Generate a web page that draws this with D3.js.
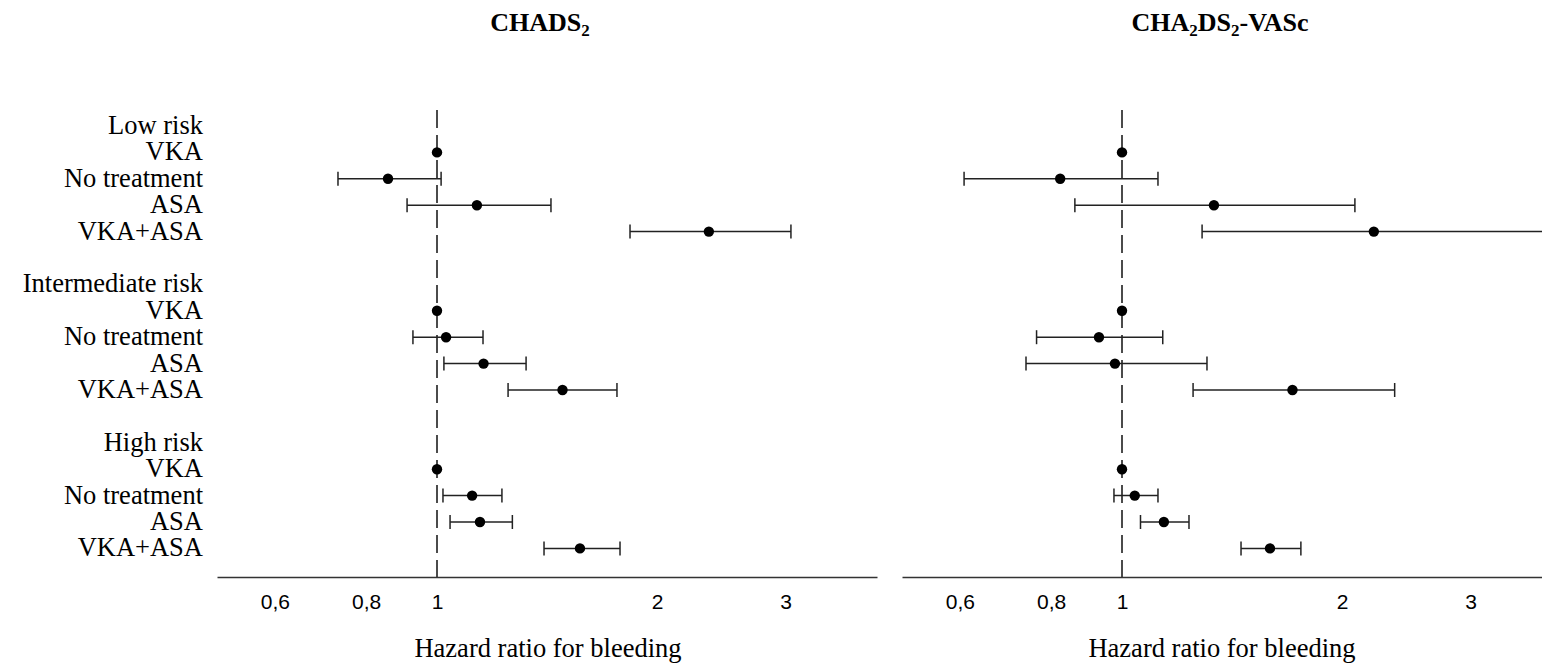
<!DOCTYPE html>
<html>
<head>
<meta charset="utf-8">
<script src="https://cdn.jsdelivr.net/npm/d3@7"></script>
<style>
  body { margin: 0; background: #fff; }
  svg { display: block; }
</style>
</head>
<body>
<svg id="chart"></svg>
<script>
const width = 1542;
const height = 664;

// rows of the forest plot, blank strings are spacer rows
const rowLabels = [
  "Low risk", "VKA", "No treatment", "ASA", "VKA+ASA", "",
  "Intermediate risk", "VKA", "No treatment", "ASA", "VKA+ASA", "",
  "High risk", "VKA", "No treatment", "ASA", "VKA+ASA"
];

// CHADS2 hazard ratios
const chadsEst  = [null, 1, 0.857, 1.134, 2.355, null, null, 1, 1.029, 1.158, 1.485, null, null, 1, 1.117, 1.145, 1.569];
const chadsLow  = [null, null, 0.732, 0.910, 1.837, null, null, null, 0.927, 1.022, 1.251, null, null, null, 1.019, 1.042, 1.401];
const chadsHigh = [null, null, 1.013, 1.432, 3.05, null, null, null, 1.156, 1.324, 1.763, null, null, null, 1.227, 1.268, 1.78];

// CHA2DS2-VASc hazard ratios
const vascEst  = [null, 1, 0.823, 1.336, 2.211, null, null, 1, 0.930, 0.978, 1.711, null, null, 1, 1.041, 1.141, 1.594];
const vascLow  = [null, null, 0.608, 0.862, 1.287, null, null, null, 0.764, 0.739, 1.251, null, null, null, 0.975, 1.06, 1.455];
const vascHigh = [null, null, 1.12, 2.083, 4.0, null, null, null, 1.137, 1.307, 2.361, null, null, null, 1.12, 1.235, 1.757];

const tickValues = [0.6, 0.8, 1, 2, 3];
const xDomain = [0.5, 4];

const svg = d3.select("#chart")
  .attr("width", width)
  .attr("height", height);

const y = d3.scalePoint()
  .domain(d3.range(rowLabels.length))
  .range([126, 548.4]);

const axisY = 577;
const serif = "'Liberation Serif', 'Times New Roman', serif";

/* ---------------------------
Row labels
--------------------------- */

svg.append("g")
  .selectAll("text")
  .data(rowLabels)
  .enter()
  .append("text")
  .attr("x", 203)
  .attr("y", (d, i) => y(i) + 8)
  .attr("text-anchor", "end")
  .style("font-family", serif)
  .style("font-size", "26.5px")
  .attr("fill", "#000")
  .text(d => d);

/* ---------------------------
One panel
--------------------------- */

function drawPanel(cfg) {
  const x = d3.scaleLog().domain(xDomain).range(cfg.range);
  const g = svg.append("g");

  // title with subscripts
  const title = g.append("text")
    .attr("x", cfg.titleX)
    .attr("y", 31)
    .attr("text-anchor", "middle")
    .style("font-family", serif)
    .style("font-size", "26px")
    .style("font-weight", "bold");
  cfg.title.forEach(part => {
    title.append("tspan")
      .attr("baseline-shift", part.sub ? "-30%" : null)
      .style("font-size", part.sub ? "17px" : null)
      .text(part.t);
  });

  // reference line at HR = 1
  g.append("line")
    .attr("x1", x(1))
    .attr("x2", x(1))
    .attr("y1", 110)
    .attr("y2", axisY)
    .attr("stroke", "#111")
    .attr("stroke-width", 1.5)
    .attr("stroke-dasharray", "18,7");

  // axis
  const axis = d3.axisBottom(x)
    .tickValues(tickValues)
    .tickSize(0)
    .tickSizeOuter(0)
    .tickPadding(17)
    .tickFormat(d => String(d).replace(".", ","));

  const ag = g.append("g")
    .attr("transform", `translate(0,${axisY})`)
    .call(axis);
  ag.select(".domain")
    .attr("stroke", "#333")
    .attr("stroke-width", 1.5);
  ag.selectAll(".tick text")
    .attr("dy", "0.71em")
    .style("font-family", "'Liberation Sans', Arial, sans-serif")
    .style("font-size", "21px")
    .attr("fill", "#000");

  g.append("text")
    .attr("x", cfg.labelX)
    .attr("y", 657)
    .attr("text-anchor", "middle")
    .style("font-family", serif)
    .style("font-size", "26.5px")
    .text("Hazard ratio for bleeding");

  const rows = d3.range(rowLabels.length).filter(i => cfg.est[i] != null);
  const ciRows = rows.filter(i => cfg.low[i] != null);

  // confidence intervals
  const ci = g.append("g")
    .attr("stroke", "#222")
    .attr("stroke-width", 1.5);

  ci.selectAll(".ci")
    .data(ciRows)
    .enter()
    .append("line")
    .attr("x1", i => x(cfg.low[i]))
    .attr("x2", i => x(cfg.high[i]))
    .attr("y1", i => y(i))
    .attr("y2", i => y(i));

  ci.selectAll(".capL")
    .data(ciRows)
    .enter()
    .append("line")
    .attr("x1", i => x(cfg.low[i]))
    .attr("x2", i => x(cfg.low[i]))
    .attr("y1", i => y(i) - 7)
    .attr("y2", i => y(i) + 7);

  ci.selectAll(".capR")
    .data(ciRows)
    .enter()
    .append("line")
    .attr("x1", i => x(cfg.high[i]))
    .attr("x2", i => x(cfg.high[i]))
    .attr("y1", i => y(i) - 7)
    .attr("y2", i => y(i) + 7);

  // point estimates
  g.selectAll("circle")
    .data(rows)
    .enter()
    .append("circle")
    .attr("cx", i => x(cfg.est[i]))
    .attr("cy", i => y(i))
    .attr("r", 5.2)
    .attr("fill", "#000");
}

drawPanel({
  range: [217, 877],
  titleX: 540,
  labelX: 548,
  title: [{ t: "CHADS" }, { t: "2", sub: true }],
  est: chadsEst, low: chadsLow, high: chadsHigh
});

drawPanel({
  range: [902, 1562],
  titleX: 1220,
  labelX: 1222,
  title: [{ t: "CHA" }, { t: "2", sub: true }, { t: "DS" }, { t: "2", sub: true }, { t: "-VASc" }],
  est: vascEst, low: vascLow, high: vascHigh
});
</script>
</body>
</html>
